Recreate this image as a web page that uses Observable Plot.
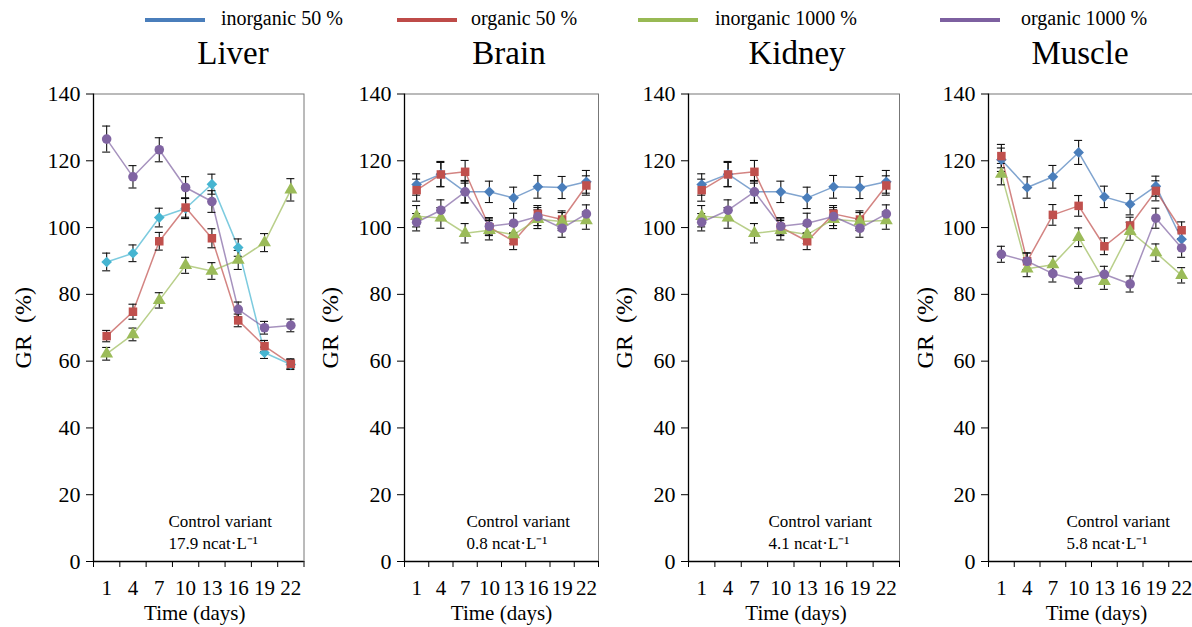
<!DOCTYPE html>
<html><head><meta charset="utf-8">
<script src="https://cdn.jsdelivr.net/npm/d3@7"></script>
<script src="https://cdn.jsdelivr.net/npm/@observablehq/plot@0.6"></script>
<style>
body{margin:0;width:1192px;height:627px;overflow:hidden;background:#fff;font-family:"Liberation Serif","Times New Roman",serif;position:relative}
.panel{position:absolute;top:0}
.panel svg text{font-family:"Liberation Serif","Times New Roman",serif}
.title{position:absolute;top:37px;font-size:33px;line-height:1;transform:translateX(-50%);white-space:nowrap}
.legtext{position:absolute;top:8px;font-size:20px;line-height:1;white-space:nowrap}
.legline{position:absolute;top:18px;height:4px;width:60px}
</style></head><body>
<script>
// ---- data ----
const days = ["1", "4", "7", "10", "13", "16", "19", "22"];
const seriesNames = ["inorganic 50 %", "organic 50 %", "inorganic 1000 %", "organic 1000 %"];
const organs = ["Liver", "Brain", "Kidney", "Muscle"];
const controlLabels = ["17.9 ncat·L⁻¹", "0.8 ncat·L⁻¹", "4.1 ncat·L⁻¹", "5.8 ncat·L⁻¹"];

const liverInorganic50 = [89.7, 92.3, 103.0, 105.7, 113.0, 94.0, 62.5, 59.0];
const liverOrganic50 = [67.5, 74.8, 95.9, 106.0, 96.8, 72.2, 64.5, 59.2];
const liverInorganic1000 = [62.2, 68.0, 78.2, 88.7, 87.0, 90.3, 95.5, 111.3];
const liverOrganic1000 = [126.5, 115.2, 123.3, 112.0, 107.8, 75.5, 70.0, 70.7];
const liverInorganic50Err = [2.65, 2.5, 2.8, 3.0, 3.0, 2.6, 1.7, 1.5];
const liverOrganic50Err = [1.7, 2.25, 2.65, 2.9, 2.85, 1.9, 1.7, 1.5];
const liverInorganic1000Err = [1.9, 1.9, 2.3, 2.4, 2.5, 2.85, 2.7, 3.35];
const liverOrganic1000Err = [3.9, 3.35, 3.6, 3.25, 3.25, 2.2, 1.9, 1.9];

const brainInorganic50 = [112.9, 116.0, 110.7, 110.7, 108.9, 112.2, 112.0, 113.7];
const brainOrganic50 = [111.2, 115.9, 116.7, 100.1, 95.9, 104.1, 102.4, 112.6];
const brainInorganic1000 = [103.4, 102.9, 98.3, 99.2, 97.9, 102.5, 101.8, 102.1];
const brainOrganic1000 = [101.6, 105.2, 110.7, 100.4, 101.3, 103.3, 99.8, 104.1];
const brainInorganic50Err = [3.2, 3.8, 3.2, 3.2, 3.2, 3.4, 3.3, 3.4];
const brainOrganic50Err = [3.3, 3.6, 3.4, 2.5, 2.5, 2.5, 2.6, 2.9];
const brainInorganic1000Err = [3.2, 3.1, 2.9, 2.9, 2.7, 2.8, 2.7, 2.6];
const brainOrganic1000Err = [2.6, 3.1, 3.4, 2.6, 3.0, 2.7, 2.7, 2.7];

const kidneyInorganic50 = [112.9, 116.0, 110.7, 110.7, 108.9, 112.2, 112.0, 113.7];
const kidneyOrganic50 = [111.2, 115.9, 116.7, 100.1, 95.9, 104.1, 102.4, 112.6];
const kidneyInorganic1000 = [103.4, 102.9, 98.3, 99.2, 97.9, 102.5, 101.8, 102.1];
const kidneyOrganic1000 = [101.6, 105.2, 110.7, 100.4, 101.3, 103.3, 99.8, 104.1];
const kidneyInorganic50Err = [3.2, 3.8, 3.2, 3.2, 3.2, 3.4, 3.3, 3.4];
const kidneyOrganic50Err = [3.3, 3.6, 3.4, 2.5, 2.5, 2.5, 2.6, 2.9];
const kidneyInorganic1000Err = [3.2, 3.1, 2.9, 2.9, 2.7, 2.8, 2.7, 2.6];
const kidneyOrganic1000Err = [2.6, 3.1, 3.4, 2.6, 3.0, 2.7, 2.7, 2.7];

const muscleInorganic50 = [120.3, 112.0, 115.2, 122.5, 109.2, 107.0, 112.4, 96.5];
const muscleOrganic50 = [121.4, 89.9, 103.8, 106.5, 94.4, 100.6, 111.0, 99.2];
const muscleInorganic1000 = [116.0, 87.7, 88.9, 97.1, 83.9, 98.9, 92.5, 85.7];
const muscleOrganic1000 = [92.0, 89.9, 86.2, 84.2, 86.0, 83.1, 102.8, 93.9];
const muscleInorganic50Err = [3.5, 3.2, 3.4, 3.6, 3.2, 3.2, 3.0, 2.8];
const muscleOrganic50Err = [3.5, 2.5, 3.1, 3.1, 2.5, 2.5, 3.0, 2.5];
const muscleInorganic1000Err = [3.2, 2.4, 2.5, 2.8, 2.4, 2.7, 2.6, 2.3];
const muscleOrganic1000Err = [2.4, 2.5, 2.5, 2.4, 2.4, 2.4, 3.0, 2.8];

const yTicks = [0, 20, 40, 60, 80, 100, 120, 140];

// ---- styling / layout ----
const serif = "'Liberation Serif', 'Times New Roman', serif";
const legendColors = ["#4a7ebb", "#be4b48", "#98b954", "#7d60a0"];
const markerColors = ["#4a7ebb", "#c0504d", "#9bbb59", "#8064a2"];
const liverInorgColor = "#46b5d1";
const symbols = ["diamond2", "square", "triangle", "circle"];

const panels = [
  {values: [liverInorganic50, liverOrganic50, liverInorganic1000, liverOrganic1000],
   errors: [liverInorganic50Err, liverOrganic50Err, liverInorganic1000Err, liverOrganic1000Err],
   fl: 92.5, fr: 303, titleX: 233, annDx: 75, yLabDx: -70, xLabDx: -4, cyan: true},
  {values: [brainInorganic50, brainOrganic50, brainInorganic1000, brainOrganic1000],
   errors: [brainInorganic50Err, brainOrganic50Err, brainInorganic1000Err, brainOrganic1000Err],
   fl: 404, fr: 598, titleX: 509, annDx: 62, yLabDx: -74, xLabDx: 0},
  {values: [kidneyInorganic50, kidneyOrganic50, kidneyInorganic1000, kidneyOrganic1000],
   errors: [kidneyInorganic50Err, kidneyOrganic50Err, kidneyInorganic1000Err, kidneyOrganic1000Err],
   fl: 688, fr: 899, titleX: 797, annDx: 80, yLabDx: -64, xLabDx: 2},
  {values: [muscleInorganic50, muscleOrganic50, muscleInorganic1000, muscleOrganic1000],
   errors: [muscleInorganic50Err, muscleOrganic50Err, muscleInorganic1000Err, muscleOrganic1000Err],
   fl: 988, fr: 1194, titleX: 1080, annDx: 78, yLabDx: -63, xLabDx: 5}
];

const frameTop = 93.5, frameBottom = 561, svgH = 627;
const ml = 88, mr = 10;

panels.forEach((p, pi) => {
  const data = [];
  seriesNames.forEach((s, si) => p.values[si].forEach((v, i) =>
    data.push({day: days[i], series: s, value: v, err: p.errors[si][i]})));
  const innerW = p.fr - p.fl;
  const W = innerW + ml + mr;
  const bw = innerW / days.length;
  const capInset = (bw - 8) / 2;
  const colors = markerColors.slice();
  if (p.cyan) colors[0] = liverInorgColor;
  const chart = Plot.plot({
    width: W, height: svgH,
    marginLeft: ml, marginRight: mr, marginTop: frameTop, marginBottom: svgH - frameBottom,
    style: {background: "transparent", fontFamily: serif, overflow: "visible", color: "#000", maxWidth: "none"},
    x: {type: "band", domain: days, padding: 0, round: false},
    y: {domain: [0, 140]},
    color: {domain: seriesNames, range: colors},
    symbol: {domain: seriesNames, range: symbols},
    marks: [
      Plot.frame({stroke: "#777", strokeWidth: 1}),
      Plot.axisY({ticks: yTicks, tickSize: 7, tickPadding: 6, fontSize: 22, fontFamily: serif, label: null, tickFormat: d => String(d)}),
      Plot.axisX({tickSize: 0, tickPadding: 19, fontSize: 21, fontFamily: serif, label: null}),
      Plot.ruleX(days, {x: d => d, dx: -bw / 2, insetTop: frameBottom - frameTop, insetBottom: -6, stroke: "#000"}),
      Plot.ruleX(days.slice(-1), {x: d => d, dx: bw / 2, insetTop: frameBottom - frameTop, insetBottom: -6, stroke: "#000"}),
      Plot.ruleY([0], {stroke: "#000", strokeWidth: 1.3}),
      Plot.ruleX(days.slice(0, 1), {x: d => d, dx: -bw / 2, stroke: "#000", strokeWidth: 1.3}),
      Plot.line(data, {x: "day", y: "value", z: "series", stroke: "series", strokeWidth: 1.5, strokeOpacity: 0.7}),
      Plot.ruleX(data, {x: "day", y1: d => d.value - d.err, y2: d => d.value + d.err, stroke: "#111", strokeWidth: 1.1}),
      Plot.tickY(data, {x: "day", y: d => d.value - d.err, stroke: "#111", strokeWidth: 1.1, insetLeft: capInset, insetRight: capInset}),
      Plot.tickY(data, {x: "day", y: d => d.value + d.err, stroke: "#111", strokeWidth: 1.1, insetLeft: capInset, insetRight: capInset}),
      Plot.dot(data, {x: "day", y: "value", fill: "series", symbol: "series", r: 4.8, stroke: "none"}),
      Plot.text(["Control variant\n" + controlLabels[pi]], {frameAnchor: "bottom-left", dx: p.annDx, dy: -13, textAnchor: "start", lineAnchor: "bottom", fontSize: 17, lineHeight: 1.25, fill: "#000", fontFamily: serif}),
      Plot.text(["GR\u2002(%)"], {frameAnchor: "left", rotate: -90, dx: p.yLabDx, textAnchor: "middle", fontSize: 24, fill: "#000", fontFamily: serif}),
      Plot.text(["Time (days)"], {frameAnchor: "bottom", dx: p.xLabDx, dy: 58, textAnchor: "middle", fontSize: 21, fill: "#000", fontFamily: serif})
    ]
  });
  const div = document.createElement("div");
  div.className = "panel";
  div.style.left = (p.fl - ml) + "px";
  div.style.width = W + "px";
  div.appendChild(chart);
  document.body.appendChild(div);

  const t = document.createElement("div");
  t.className = "title";
  t.style.left = p.titleX + "px";
  t.textContent = organs[pi];
  document.body.appendChild(t);
});

// legend
const legLineX = [145, 397, 638, 940];
const legTextX = [221, 471, 715, 1021];
seriesNames.forEach((s, i) => {
  const l = document.createElement("div");
  l.className = "legline";
  l.style.left = legLineX[i] + "px";
  l.style.background = legendColors[i];
  document.body.appendChild(l);
  const t = document.createElement("div");
  t.className = "legtext";
  t.style.left = legTextX[i] + "px";
  t.textContent = s;
  document.body.appendChild(t);
});
</script>
</body></html>
